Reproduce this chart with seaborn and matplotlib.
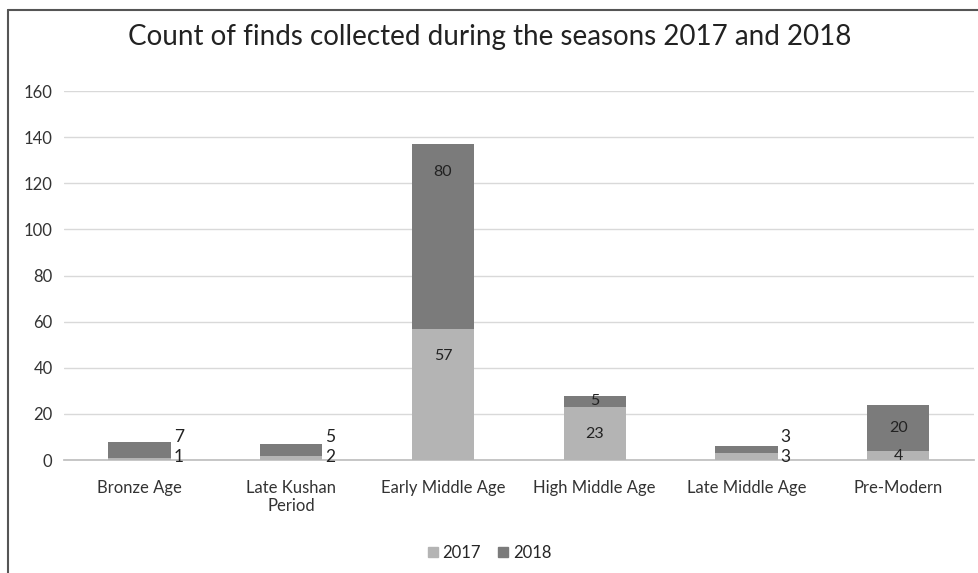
import numpy as np
import pandas as pd
import matplotlib.pyplot as plt
import seaborn as sns
from matplotlib.patches import Rectangle

# data
periods = ['Bronze Age', 'Late Kushan\nPeriod', 'Early Middle Age',
           'High Middle Age', 'Late Middle Age', 'Pre-Modern']
finds_2017 = [1, 2, 57, 23, 3, 4]
finds_2018 = [7, 5, 80, 5, 3, 20]
y_ticks = [0, 20, 40, 60, 80, 100, 120, 140, 160]

sns.set_theme(style='white')
plt.rcParams['font.family'] = ['Lato', 'DejaVu Sans']

c2017 = '#b4b4b4'
c2018 = '#7b7b7b'

df = pd.DataFrame({'period': periods, '2017': finds_2017, '2018': finds_2018})
df['total'] = df['2017'] + df['2018']

fig = plt.figure(figsize=(9.79, 5.73), dpi=100)
ax = fig.add_axes([0.065, 0.197, 0.93, 0.644])

# stacked bars: draw totals first, then 2017 on top of them
sns.barplot(data=df, x='period', y='total', color=c2018, width=0.41,
            saturation=1, linewidth=0, ax=ax, zorder=3)
sns.barplot(data=df, x='period', y='2017', color=c2017, width=0.41,
            saturation=1, linewidth=0, ax=ax, zorder=4)

ax.set_ylim(0, 160)
ax.set_yticks(y_ticks)
ax.set_xlim(-0.5, len(periods) - 0.5)
ax.yaxis.grid(True, color='#d9d9d9', linewidth=1)
ax.set_axisbelow(True)
for s in ['top', 'right', 'left']:
    ax.spines[s].set_visible(False)
ax.spines['bottom'].set_color('#bfbfbf')
ax.tick_params(axis='both', length=0, labelsize=12, colors='#333333', pad=8)
ax.tick_params(axis='x', pad=14)
ax.set_xlabel('')
ax.set_ylabel('')

# data labels
half = 0.41 / 2
for i, (a, b) in enumerate(zip(finds_2017, finds_2018)):
    if a + b < 10:
        # small stacks: labels to the right of the bar
        ax.text(i + half + 0.02, 10, str(b), ha='left', va='center',
                fontsize=12.5, color='#222222')
        ax.text(i + half + 0.02, 1.5, str(a), ha='left', va='center',
                fontsize=12.5, color='#222222')
    elif a > 40:
        ax.text(i, a - 12, str(a), ha='center', va='center', fontsize=11.5,
                color='#222222', zorder=5)
        ax.text(i, a + b - 12, str(b), ha='center', va='center', fontsize=11.5,
                color='#222222', zorder=5)
    else:
        ax.text(i, a / 2, str(a), ha='center', va='center', fontsize=11.5,
                color='#222222', zorder=5)
        ax.text(i, a + b / 2, str(b), ha='center', va='center', fontsize=11.5,
                color='#222222', zorder=5)

fig.text(0.5, 0.935, 'Count of finds collected during the seasons 2017 and 2018',
         ha='center', va='center', fontsize=20, color='#222222')

handles = [Rectangle((0, 0), 1, 1, color=c2017), Rectangle((0, 0), 1, 1, color=c2018)]
fig.legend(handles, ['2017', '2018'], loc='center', bbox_to_anchor=(0.5, 0.035),
           ncol=2, frameon=False, fontsize=12, handlelength=0.6, handleheight=0.6,
           handletextpad=0.3, columnspacing=1.0)

# outer frame like the chart area border
fig.add_artist(plt.Line2D([0.008, 1.0], [0.983, 0.983], color='#555555', lw=1.5,
                          transform=fig.transFigure))
fig.add_artist(plt.Line2D([0.008, 0.008], [0.0, 0.983], color='#555555', lw=1.5,
                          transform=fig.transFigure))

fig.savefig('out.png', dpi=100)
